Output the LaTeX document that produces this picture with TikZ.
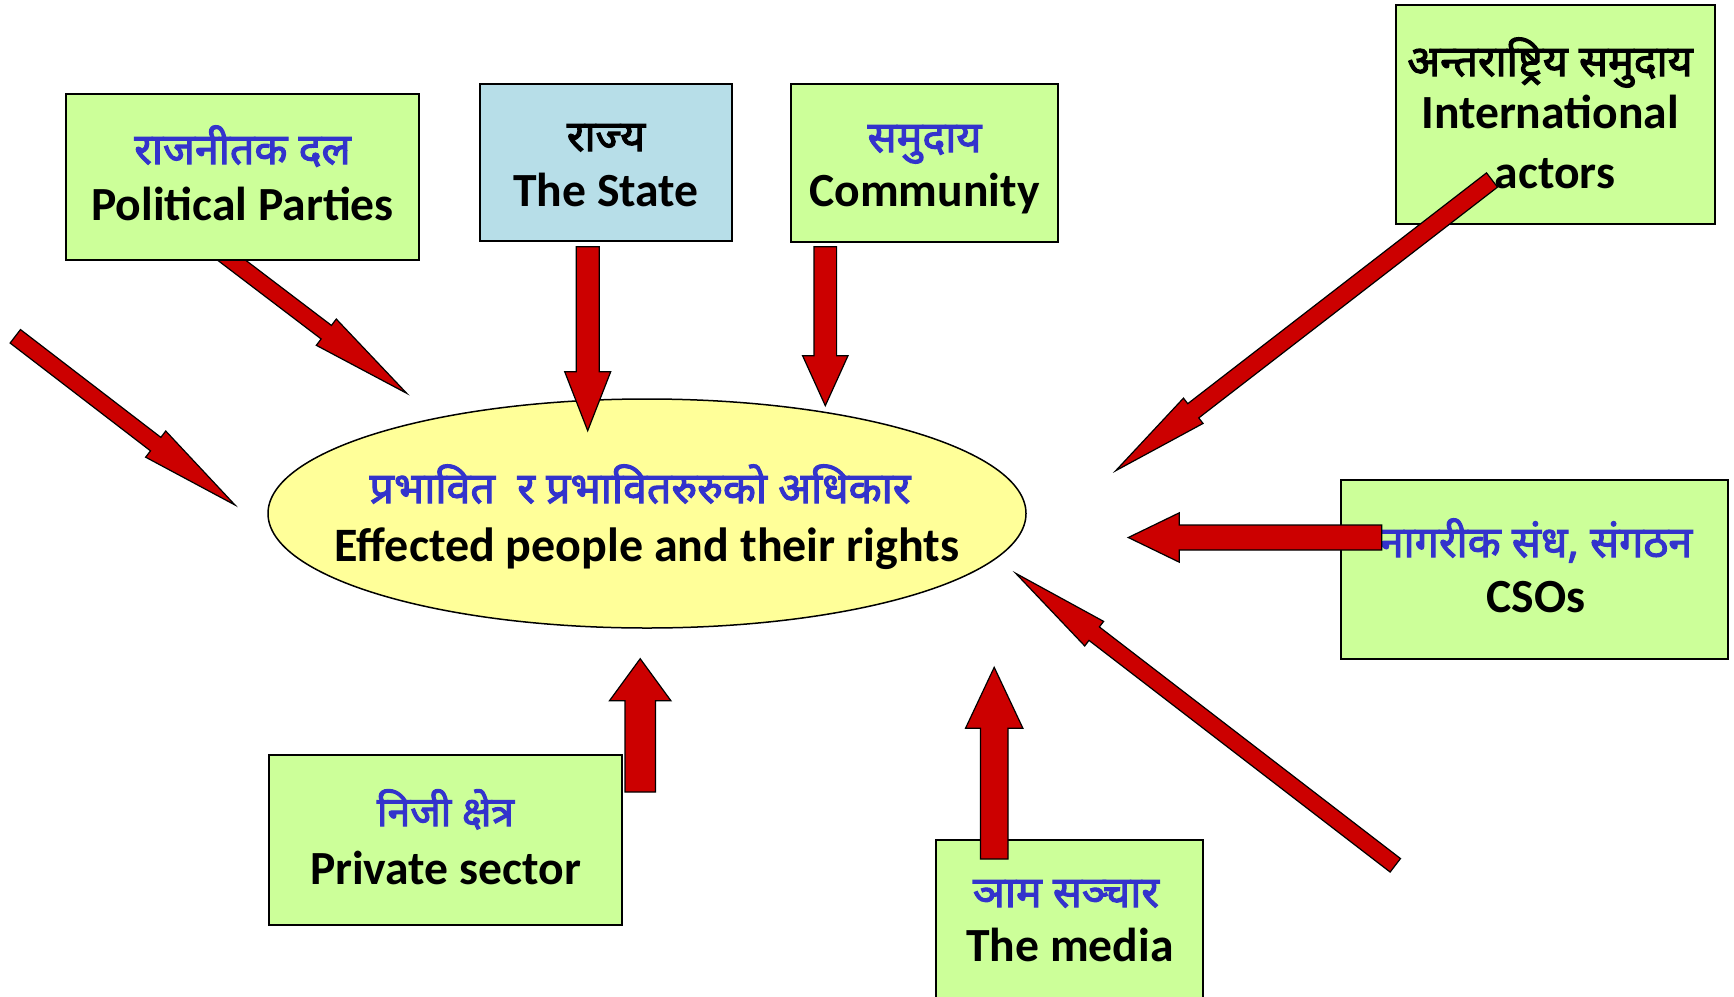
\documentclass[tikz,border=0pt]{standalone}
\usepackage{fontspec}
\setmainfont{Carlito}
\newfontfamily\dev[Script=Devanagari, FakeBold=2.5]{Noto Sans}
\usetikzlibrary{calc,shapes.geometric}
\definecolor{boxgreen}{HTML}{CCFF99}
\definecolor{boxblue}{HTML}{B7DEE8}
\definecolor{ellyellow}{HTML}{FFFF99}
\definecolor{arrred}{HTML}{CC0000}
\definecolor{devblue}{HTML}{3333CC}
\tikzset{
 gbox/.style={draw=black, line width=2pt, fill=boxgreen, inner sep=0pt, outer sep=0pt},
 bbox/.style={gbox, fill=boxblue},
 ell/.style={ellipse, draw=black, line width=1.5pt, fill=ellyellow, inner sep=0pt},
 en/.style={font=\fontsize{47.6}{56}\selectfont\bfseries, inner sep=0pt, anchor=base},
 enbig/.style={en, font=\fontsize{48}{56}\selectfont\bfseries},
 dv/.style={font=\dev\fontsize{43}{50}\selectfont, text=devblue, inner sep=0pt, anchor=base},
 dvblack/.style={dv, text=black},
 blk/.style={draw=black, line width=1.2pt, fill=arrred, line join=miter},
}
% #1 tail, #2 tip, #3 half shaft width, #4 half head width, #5 head length
\newcommand\blockarrow[5]{%
  \coordinate (bah) at ($(#2)!#5!(#1)$);
  \draw[blk] ($(#1)!#3!90:(#2)$) -- ($(bah)!#3!90:(#2)$) -- ($(bah)!#4!90:(#2)$) -- (#2)
    -- ($(bah)!#4!-90:(#2)$) -- ($(bah)!#3!-90:(#2)$) -- ($(#1)!#3!-90:(#2)$) -- cycle;
}
\begin{document}
\begin{tikzpicture}[x=1pt,y=-1pt]
\useasboundingbox (0,0) rectangle (1734,996);
\clip (0,0) rectangle (1734,996);
% arrow end points
\coordinate (a1t) at (15.3,336.3);   \coordinate (a1h) at (235,505);
\coordinate (ppt) at (215.7,248.1);  \coordinate (pph) at (406.7,393.3);
\coordinate (stt) at (587.7,246.7);  \coordinate (sth) at (587.7,430.7);
\coordinate (cmt) at (825.3,246.7);  \coordinate (cmh) at (825.3,405.7);
\coordinate (itt) at (1492,180);     \coordinate (ith) at (1115.7,470.7);
\coordinate (cst) at (1381.7,537.5); \coordinate (csh) at (1128.3,537.5);
\coordinate (brt) at (1395.3,865.3); \coordinate (brh) at (1015.7,573.3);
\coordinate (mdt) at (994.2,859);    \coordinate (mdh) at (994.2,667.3);
\coordinate (pvt) at (640.2,792);    \coordinate (pvh) at (640.2,658.7);

\blockarrow{a1t}{a1h}{8.5pt}{16.5pt}{100pt}
\blockarrow{ppt}{pph}{8.5pt}{16.5pt}{101pt}

% boxes
\node[gbox, minimum width=353pt, minimum height=166pt] (pp) at (242.5,177) {};
\node[bbox, minimum width=252pt, minimum height=157pt] (st) at (606,162.5) {};
\node[gbox, minimum width=267pt, minimum height=158pt] (cm) at (924.5,163) {};
\node[gbox, minimum width=319pt, minimum height=219pt] (it) at (1555.5,114.5) {};
\node[gbox, minimum width=387pt, minimum height=179pt] (cs) at (1534.5,569.5) {};
\node[gbox, minimum width=353pt, minimum height=170pt] (pv) at (445.5,840) {};
\node[gbox, minimum width=267pt, minimum height=180pt] (md) at (1069.5,930) {};
\node[ell, minimum width=758pt, minimum height=229pt] (el) at (647,513.5) {};

% texts
\node[dv] (pp-dv) at (242.5,164) {राजनीतक दल};
\node[en] (pp-en) at (242.5,220) {Political Parties};
\node[dvblack] (st-dv) at (606,151) {राज्य};
\node[en] (st-en) at (606,206) {The State};
\node[dv] (cm-dv) at (924.5,152) {समुदाय};
\node[en] (cm-en) at (924.5,206) {Community};
\node[dvblack] (it-dv) at (1550,76) {अन्तराष्ट्रिय समुदाय};
\node[en] (it-en1) at (1550,128) {International};
\node[en] (it-en2) at (1555,188) {actors};
\node[dv] (cs-dv) at (1536,557) {नागरीक संध, संगठन};
\node[en] (cs-en) at (1536,612) {CSOs};
\node[dv, font=\dev\fontsize{41}{50}\selectfont] (pv-dv) at (445.5,826) {निजी क्षेत्र};
\node[en] (pv-en) at (445.5,884) {Private sector};
\node[dv] (md-dv) at (1066,907) {ञाम सञ्चार};
\node[en] (md-en) at (1070,961) {The media};
\node[dv] (el-dv) at (640,503) {प्रभावित\ \ र प्रभावितरुरुको अधिकार};
\node[enbig] (el-en) at (647,561) {Effected people and their rights};

% arrows on top
\blockarrow{stt}{sth}{11.5pt}{23pt}{59pt}
\blockarrow{cmt}{cmh}{11.3pt}{22.7pt}{50pt}
\blockarrow{itt}{ith}{9pt}{16pt}{98pt}
\blockarrow{cst}{csh}{12.5pt}{24.7pt}{51pt}
\blockarrow{brt}{brh}{8.5pt}{15.5pt}{99pt}
\blockarrow{mdt}{mdh}{13.8pt}{28.7pt}{61pt}
\blockarrow{pvt}{pvh}{15.2pt}{30.7pt}{42pt}
\end{tikzpicture}
\end{document}
